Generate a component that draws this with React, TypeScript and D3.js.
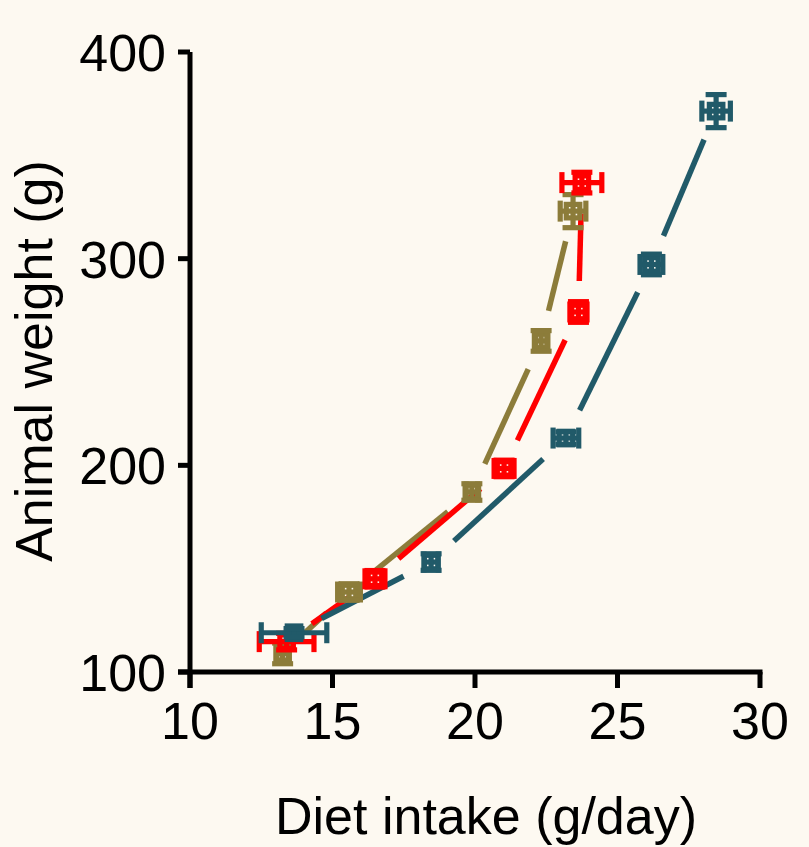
import React from "react";
import * as d3 from "d3";

const xTicks = [10, 15, 20, 25, 30];
const yTicks = [100, 200, 300, 400];

const blueX = [13.65, 18.46, 23.19, 26.19, 28.46];
const blueY = [119, 153.2, 213.2, 297.2, 371.4];
const blueXErr = [1.15, 0.25, 0.45, 0.4, 0.5];
const blueYErr = [2, 4, 3, 5, 8];

const goldX = [13.25, 15.58, 19.89, 22.32, 23.44];
const goldY = [109, 138.7, 187.1, 260.2, 323];
const goldXErr = [0.2, 0.4, 0.2, 0.2, 0.45];
const goldYErr = [5, 4, 4, 5, 8];

const redX = [13.39, 16.49, 21.02, 23.63, 23.75];
const redY = [114.7, 145.1, 198.5, 274.2, 336.8];
const redXErr = [0.96, 0.35, 0.35, 0.3, 0.7];
const redYErr = [4, 4, 4, 5, 5];

const W = 809;
const H = 847;
const BG = "#fdf9f1";
const BLUE = "#215a69";
const GOLD = "#8c7c3a";
const RED = "#ff0000";
const FONT = "'Liberation Sans', Arial, sans-serif";

const x = d3.scaleLinear().domain([10, 30]).range([190, 760]);
const y = d3.scaleLinear().domain([100, 400]).range([672, 52]);

type Series = { xs: number[]; ys: number[]; xe: number[]; ye: number[]; color: string };

const series: Series[] = [
  { xs: goldX, ys: goldY, xe: goldXErr, ye: goldYErr, color: GOLD },
  { xs: redX, ys: redY, xe: redXErr, ye: redYErr, color: RED },
  { xs: blueX, ys: blueY, xe: blueXErr, ye: blueYErr, color: BLUE },
];

const GAP = 31;
const SW = 5.2;
const MS = 13.5;
const CAP = 21;

function Segments({ s }: { s: Series }) {
  const segs: JSX.Element[] = [];
  for (let i = 0; i < s.xs.length - 1; i++) {
    const x1 = x(s.xs[i]), y1 = y(s.ys[i]);
    const x2 = x(s.xs[i + 1]), y2 = y(s.ys[i + 1]);
    const dx = x2 - x1, dy = y2 - y1;
    const len = Math.hypot(dx, dy);
    if (len <= 2 * GAP) continue;
    const ux = dx / len, uy = dy / len;
    segs.push(
      <line key={i} x1={x1 + ux * GAP} y1={y1 + uy * GAP} x2={x2 - ux * GAP} y2={y2 - uy * GAP}
        stroke={s.color} strokeWidth={5.5} />
    );
  }
  return <g>{segs}</g>;
}

function Markers({ s }: { s: Series }) {
  return (
    <g>
      {s.xs.map((xv, i) => {
        const cx = x(xv), cy = y(s.ys[i]);
        const xl = x(xv - s.xe[i]), xr = x(xv + s.xe[i]);
        const yt = y(s.ys[i] + s.ye[i]), yb = y(s.ys[i] - s.ye[i]);
        return (
          <g key={i} stroke={s.color} strokeWidth={SW} fill="none">
            <rect x={cx - MS / 2} y={cy - MS / 2} width={MS} height={MS} />
            <line x1={xl} y1={cy} x2={xr} y2={cy} />
            <line x1={xl} y1={cy - CAP / 2} x2={xl} y2={cy + CAP / 2} />
            <line x1={xr} y1={cy - CAP / 2} x2={xr} y2={cy + CAP / 2} />
            <line x1={cx} y1={yt} x2={cx} y2={yb} />
            <line x1={cx - CAP / 2} y1={yt} x2={cx + CAP / 2} y2={yt} />
            <line x1={cx - CAP / 2} y1={yb} x2={cx + CAP / 2} y2={yb} />
          </g>
        );
      })}
    </g>
  );
}

export default function App() {
  return (
    <div style={{ position: "absolute", left: 0, top: 0 }}>
      <svg width={W} height={H} style={{ display: "block" }}>
        <rect width={W} height={H} fill={BG} />
        <g stroke="#000" strokeWidth={5} strokeLinecap="butt">
          <line x1={190} y1={y(400)} x2={190} y2={688} />
          <line x1={178} y1={672} x2={x(30) + 2.5} y2={672} />
          {yTicks.map((t) => (
            <line key={t} x1={178} y1={y(t)} x2={190} y2={y(t)} />
          ))}
          {xTicks.map((t) => (
            <line key={t} x1={x(t)} y1={672} x2={x(t)} y2={688} />
          ))}
        </g>
        <g fontFamily={FONT} fontSize={52} fill="#000">
          {yTicks.map((t) => (
            <text key={t} x={166} y={y(t) + 19} textAnchor="end">{t}</text>
          ))}
          {xTicks.map((t) => (
            <text key={t} x={x(t)} y={739} textAnchor="middle">{t}</text>
          ))}
          <text x={486} y={834} textAnchor="middle">Diet intake (g/day)</text>
          <text transform={`translate(52,361) rotate(-90)`} textAnchor="middle">Animal weight (g)</text>
        </g>
        {series.map((s, i) => <Segments key={i} s={s} />)}
        {series.map((s, i) => <Markers key={i} s={s} />)}
      </svg>
    </div>
  );
}
